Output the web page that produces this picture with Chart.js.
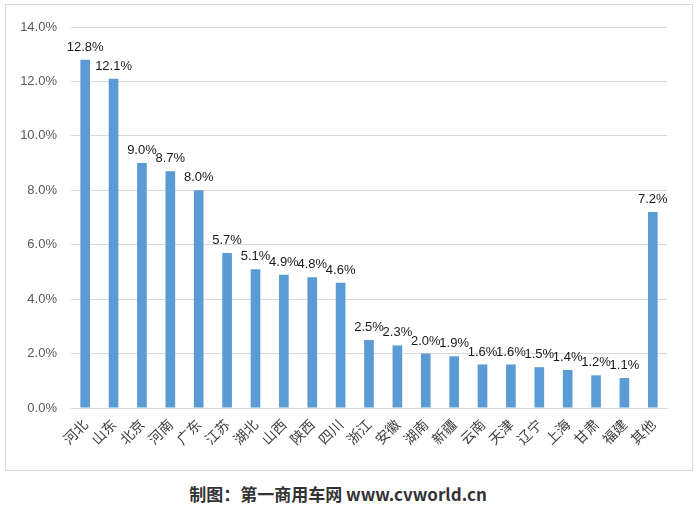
<!DOCTYPE html>
<html><head><meta charset="utf-8">
<script src="https://cdn.jsdelivr.net/npm/chart.js@4/dist/chart.umd.min.js"></script>
<style>
html,body{margin:0;padding:0;background:#fff;}
#wrap{position:relative;width:700px;height:508px;}
#box{position:absolute;left:5px;top:4px;width:688px;height:467px;border:1px solid #d9d9d9;box-sizing:border-box;}
#c{position:absolute;left:0;top:0;}
#foot{position:absolute;left:0;width:676px;top:481px;text-align:center;font:bold 17px "Noto Sans CJK SC","DejaVu Sans",sans-serif;color:#333;}
</style></head>
<body><div id="wrap"><div id="box"></div><canvas id="c" width="700" height="480"></canvas><div id="foot">制图：第一商用车网 www.cvworld.cn</div></div>
<script>
const categories = ["河北","山东","北京","河南","广东","江苏","湖北","山西","陕西","四川","浙江","安徽","湖南","新疆","云南","天津","辽宁","上海","甘肃","福建","其他"];
const shares = [12.8,12.1,9.0,8.7,8.0,5.7,5.1,4.9,4.8,4.6,2.5,2.3,2.0,1.9,1.6,1.6,1.5,1.4,1.2,1.1,7.2];
const yTicks = [0,2,4,6,8,10,12,14];

const labelPlugin = {
  id:'vals',
  afterDatasetsDraw(chart){
    const ctx = chart.ctx;
    const meta = chart.getDatasetMeta(0);
    ctx.save();
    ctx.font = '13px "Liberation Sans", Arial, sans-serif';
    ctx.fillStyle = '#1a1a1a';
    ctx.textAlign = 'center';
    ctx.textBaseline = 'bottom';
    meta.data.forEach((bar,i)=>{
      ctx.fillText(shares[i].toFixed(1)+'%', bar.x, bar.y - 6);
    });
    ctx.restore();
  }
};

new Chart(document.getElementById('c'), {
  type:'bar',
  data:{labels:categories, datasets:[{data:shares, backgroundColor:'#5b9bd5', borderColor:'#5b9bd5', borderWidth:0, barPercentage:0.34, categoryPercentage:1.0}]},
  options:{
    responsive:false, animation:false,
    layout:{padding:{top:27,right:33,left:0,bottom:0}},
    plugins:{legend:{display:false}, tooltip:{enabled:false}},
    scales:{
      x:{
        grid:{display:false, drawTicks:false},
        border:{display:true,color:'#d9d9d9'},
        ticks:{minRotation:45,maxRotation:45,padding:8,color:'#404040',font:{size:14,family:'"Noto Sans CJK SC", sans-serif'}},
        afterFit(s){ s.height = 72; }
      },
      y:{
        min:0,max:14,
        afterBuildTicks(s){ s.ticks = yTicks.map(v=>({value:v})); },
        grid:{color:'#d9d9d9', drawTicks:false},
        border:{display:false},
        ticks:{padding:14,color:'#595959',font:{size:13,family:'"Liberation Sans", Arial, sans-serif'},callback:v=>v.toFixed(1)+'%'},
        afterFit(s){ s.width = 71; }
      }
    }
  },
  plugins:[labelPlugin]
});
</script></body></html>
